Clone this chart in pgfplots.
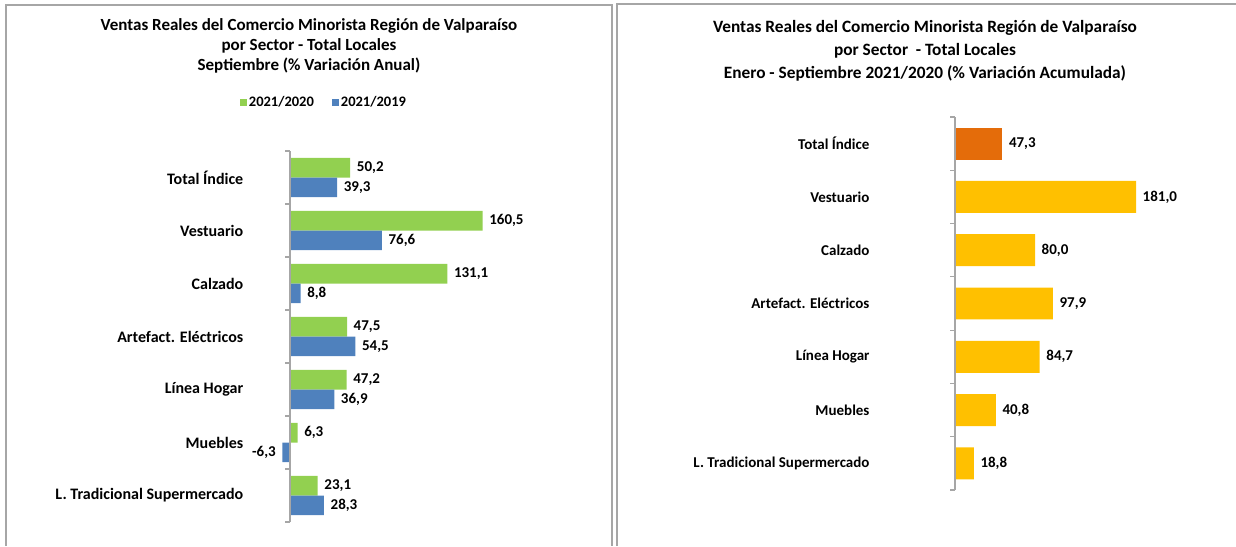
\documentclass[border=0pt]{standalone}
\usepackage{pgfplots}
\pgfplotsset{compat=1.18}
\usepackage{fontspec}
\setmainfont{Carlito}
\definecolor{verde}{HTML}{92D050}
\definecolor{azul}{HTML}{4F81BD}
\definecolor{naranjo}{HTML}{E46C0A}
\definecolor{amarillo}{HTML}{FFC000}
\definecolor{marco}{HTML}{A6A6A6}
\pgfplotsset{
  barras/.style={
    xbar, scale only axis, y dir=reverse, clip=false,
    axis line style={draw=none},
    ymin=0.5, ymax=7.5,
    ytick={1,...,7},
    yticklabels={Total Índice,Vestuario,Calzado,Artefact. Eléctricos,Línea Hogar,Muebles,L. Tradicional Supermercado},
    major tick length=0pt,
    xtick=\empty,
    yticklabel style={anchor=east},
    point meta=x,
    nodes near coords,
    nodes near coords align=horizontal,
    every node near coord/.append style={font=\fontsize{15}{18}\selectfont\bfseries, inner xsep=6.5pt},
    /pgf/number format/.cd, fixed, fixed zerofill, precision=1, use comma, assume math mode=true,
  },
}
\begin{document}
\begin{tikzpicture}[x=1pt,y=1pt]
\useasboundingbox (0,0) rectangle (1236,546);
% marcos
\draw[marco, line width=1.5pt] (6,0) -- (6,541) -- (612,541) -- (612,0);
\draw[marco, line width=1.5pt] (617,0) -- (617,542) -- (1240,542);

% panel izquierdo
\begin{scope}[every node/.style={font=\fontsize{17}{20}\selectfont\bfseries, anchor=base}]
\node at (309,515) {Ventas Reales del Comercio Minorista Región de Valparaíso};
\node at (309,495) {por Sector - Total Locales};
\node at (309,475) {Septiembre (\% Variación Anual)};
\end{scope}
\begin{axis}[barras,
  at={(246.8pt,24pt)}, anchor=south west,
  width=247.2pt, height=371pt,
  xmin=-36, xmax=170,
  bar width=0.37,
  yticklabel style={font=\fontsize{16}{19}\selectfont\bfseries},
  legend style={at={(0.312,1.132)}, anchor=center, draw=none, fill=none,
    font=\fontsize{14.5}{17}\selectfont\bfseries, legend columns=2,
    nodes={inner xsep=1.5pt},
    /tikz/every even column/.append style={column sep=17pt}},
  legend image code/.code={\fill[#1] (0pt,-3.5pt) rectangle (7pt,3.5pt);},
]
\addplot[fill=verde, draw=none, bar shift=-0.185] coordinates {
  (50.2,1) (160.5,2) (131.1,3) (47.5,4) (47.2,5) (6.3,6) (23.1,7)};
\addplot[fill=azul, draw=none, bar shift=0.185] coordinates {
  (39.3,1) (76.6,2) (8.8,3) (54.5,4) (36.9,5) (-6.3,6) (28.3,7)};
\legend{2021/2020,2021/2019}
\draw[marco, line width=1.2pt] (axis cs:0,0.5) -- (axis cs:0,7.5);
\pgfplotsinvokeforeach{0.5,1.5,2.5,3.5,4.5,5.5,6.5,7.5}{
  \draw[marco, line width=1.2pt] (axis cs:0,#1) -- ++(-5pt,0pt);}
\end{axis}

% panel derecho
\begin{scope}[every node/.style={font=\fontsize{17.3}{20}\selectfont\bfseries, anchor=base}]
\node at (925,513) {Ventas Reales del Comercio Minorista Región de Valparaíso};
\node at (925,490) {por Sector\ \ - Total Locales};
\node at (925,467) {Enero - Septiembre 2021/2020 (\% Variación Acumulada)};
\end{scope}
\begin{axis}[barras,
  at={(873pt,56pt)}, anchor=south west,
  width=282pt, height=373pt,
  xmin=-82, xmax=200,
  bar width=0.6, bar shift=0,
  yticklabel style={font=\fontsize{15}{18}\selectfont\bfseries},
]
\addplot[fill=naranjo, draw=none] coordinates {(47.3,1)};
\addplot[fill=amarillo, draw=none] coordinates {
  (181.0,2) (80.0,3) (97.9,4) (84.7,5) (40.8,6) (18.8,7)};
\draw[marco, line width=1.2pt] (axis cs:0,0.5) -- (axis cs:0,7.5);
\pgfplotsinvokeforeach{0.5,1.5,2.5,3.5,4.5,5.5,6.5,7.5}{
  \draw[marco, line width=1.2pt] (axis cs:0,#1) -- ++(-5pt,0pt);}
\end{axis}
\end{tikzpicture}
\end{document}
